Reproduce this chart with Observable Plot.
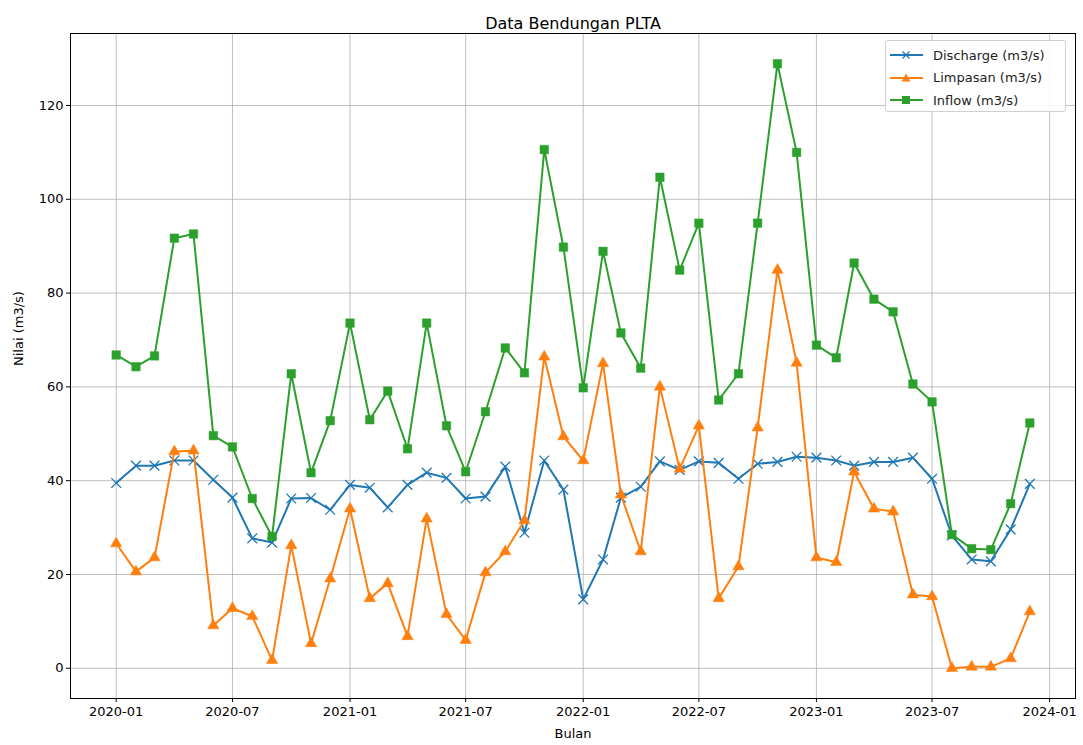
<!DOCTYPE html>
<html>
<head>
<meta charset="utf-8">
<script src="https://cdn.jsdelivr.net/npm/d3@7"></script>
<script src="https://cdn.jsdelivr.net/npm/@observablehq/plot@0.6"></script>
<style>
  body { margin: 0; background: #fff; font-family: "DejaVu Sans", sans-serif; }
  #wrap { position: relative; width: 1083px; height: 745px; }
  #legend { position: absolute; left: 885px; top: 40px; width: 181px; height: 72px;
    border: 1px solid #d0d0d0; border-radius: 3px; background: rgba(255,255,255,0.85);
    font-size: 13px; color: #222; box-sizing: border-box; }
  .row { position: absolute; left: 0; height: 22px; display: flex; align-items: center; }
  .row svg { margin-left: 4px; }
  .row span { margin-left: 10px; }
</style>
</head>
<body>
<div id="wrap"></div>
<script>
const months = [
  "2020-01","2020-02","2020-03","2020-04","2020-05","2020-06","2020-07","2020-08","2020-09","2020-10","2020-11","2020-12",
  "2021-01","2021-02","2021-03","2021-04","2021-05","2021-06","2021-07","2021-08","2021-09","2021-10","2021-11","2021-12",
  "2022-01","2022-02","2022-03","2022-04","2022-05","2022-06","2022-07","2022-08","2022-09","2022-10","2022-11","2022-12",
  "2023-01","2023-02","2023-03","2023-04","2023-05","2023-06","2023-07","2023-08","2023-09","2023-10","2023-11","2023-12"
];
const discharge = [
  39.5, 43.2, 43.2, 44.3, 44.3, 40.2, 36.4, 27.7, 26.8, 36.2, 36.3, 33.8,
  39.1, 38.5, 34.3, 39.1, 41.7, 40.6, 36.2, 36.6, 43.0, 28.9, 44.3, 38.1,
  14.7, 23.2, 36.4, 38.7, 44.1, 42.3, 44.1, 43.8, 40.4, 43.6, 44.0, 45.1,
  44.9, 44.3, 43.2, 44.0, 44.0, 44.9, 40.4, 28.3, 23.2, 22.8, 29.6, 39.3
];
const limpasan = [
  26.6, 20.6, 23.6, 46.2, 46.4, 9.1, 12.8, 11.1, 1.7, 26.2, 5.3, 19.1,
  34.0, 14.9, 18.1, 6.8, 31.9, 11.5, 6.0, 20.4, 24.9, 31.5, 66.4, 49.4,
  44.3, 65.0, 37.0, 24.9, 60.0, 42.5, 51.7, 14.9, 21.7, 51.3, 84.9, 65.1,
  23.6, 22.6, 41.9, 34.0, 33.4, 15.7, 15.3, 0.0, 0.3, 0.3, 2.1, 12.1
];
const inflow = [
  66.8, 64.3, 66.6, 91.7, 92.6, 49.6, 47.2, 36.2, 28.1, 62.8, 41.7, 52.8,
  73.6, 53.0, 59.1, 46.8, 73.6, 51.7, 41.9, 54.7, 68.3, 63.0, 110.6, 89.8,
  59.8, 88.9, 71.5, 64.0, 104.7, 84.9, 94.9, 57.2, 62.8, 94.9, 128.9, 110.0,
  68.9, 66.2, 86.4, 78.7, 76.0, 60.6, 56.8, 28.5, 25.5, 25.3, 35.1, 52.3
];
const seriesNames = ["Discharge (m3/s)", "Limpasan (m3/s)", "Inflow (m3/s)"];
const seriesColors = ["#1f77b4", "#ff7f0e", "#2ca02c"];
const seriesSymbols = ["times", "triangle", "square"];
const xTickLabels = ["2020-01","2020-07","2021-01","2021-07","2022-01","2022-07","2023-01","2023-07","2024-01"];
const yTicks = [0, 20, 40, 60, 80, 100, 120];

const parse = d3.utcParse("%Y-%m");
const dates = months.map(parse);
const xTicks = xTickLabels.map(parse);
const allValues = [discharge, limpasan, inflow];
const rows = [];
allValues.forEach((vals, si) => vals.forEach((v, i) => rows.push({date: dates[i], value: v, series: seriesNames[si], si})));

const t0 = dates[0], t1 = dates[dates.length - 1];
const span = t1 - t0;
const xDomain = [new Date(+t0 - span * 0.05), new Date(+t1 + span * 0.05)];
const yMax = d3.max(inflow), yMin = 0;
const yDomain = [yMin - (yMax - yMin) * 0.05, yMax + (yMax - yMin) * 0.05];

const marks = [
  Plot.ruleX(xTicks, {stroke: "#b0b0b0", strokeWidth: 0.8}),
  Plot.ruleY(yTicks, {stroke: "#b0b0b0", strokeWidth: 0.8}),
];
seriesNames.forEach((name, si) => {
  const data = rows.filter(d => d.si === si);
  marks.push(Plot.line(data, {x: "date", y: "value", stroke: seriesColors[si], strokeWidth: 2}));
  if (seriesSymbols[si] === "times") {
    marks.push(Plot.dot(data, {x: "date", y: "value", symbol: "times", stroke: seriesColors[si], strokeWidth: 1.3, r: 4.5}));
  } else {
    marks.push(Plot.dot(data, {x: "date", y: "value", symbol: seriesSymbols[si], fill: seriesColors[si], stroke: seriesColors[si], strokeWidth: 0.5, r: seriesSymbols[si] === "triangle" ? 4.2 : 4.8}));
  }
});
marks.push(Plot.frame({stroke: "#000", strokeWidth: 1}));
marks.push(Plot.text(["Data Bendungan PLTA"], {frameAnchor: "top", dy: -16, fontSize: 16, fill: "#000"}));
marks.push(Plot.text(["Bulan"], {frameAnchor: "bottom", dy: 39, fontSize: 13, fill: "#000"}));
marks.push(Plot.text(["Nilai (m3/s)"], {frameAnchor: "left", dx: -52, rotate: -90, fontSize: 13, fill: "#000"}));

const chart = Plot.plot({
  width: 1083,
  height: 745,
  marginTop: 33,
  marginBottom: 47,
  marginLeft: 70,
  marginRight: 8,
  style: {fontFamily: "DejaVu Sans, sans-serif", fontSize: "13px", color: "#000", background: "#fff"},
  x: {type: "utc", domain: xDomain, ticks: xTicks, tickFormat: d3.utcFormat("%Y-%m"), label: null, tickSize: 4, tickPadding: 4},
  y: {domain: yDomain, ticks: yTicks, label: null, tickSize: 4, tickPadding: 3},
  marks
});
const wrap = document.getElementById("wrap");
wrap.appendChild(chart);

// legend
const legend = document.createElement("div");
legend.id = "legend";
const symSvg = (si) => {
  const c = seriesColors[si];
  let m = "";
  if (seriesSymbols[si] === "times") m = `<path d="M12.5,6.5 L19.5,13.5 M19.5,6.5 L12.5,13.5" stroke="${c}" stroke-width="1.3"/>`;
  else if (seriesSymbols[si] === "triangle") m = `<path d="M16,5.5 L20.5,13.5 L11.5,13.5 Z" fill="${c}"/>`;
  else m = `<rect x="12" y="6" width="8" height="8" fill="${c}"/>`;
  return `<svg width="33" height="20"><line x1="0" y1="10" x2="33" y2="10" stroke="${c}" stroke-width="2"/>${m}</svg>`;
};
seriesNames.forEach((name, si) => {
  const r = document.createElement("div");
  r.className = "row";
  r.style.top = (3 + si * 22.5) + "px";
  r.innerHTML = symSvg(si) + `<span>${name}</span>`;
  legend.appendChild(r);
});
wrap.appendChild(legend);
</script>
</body>
</html>
